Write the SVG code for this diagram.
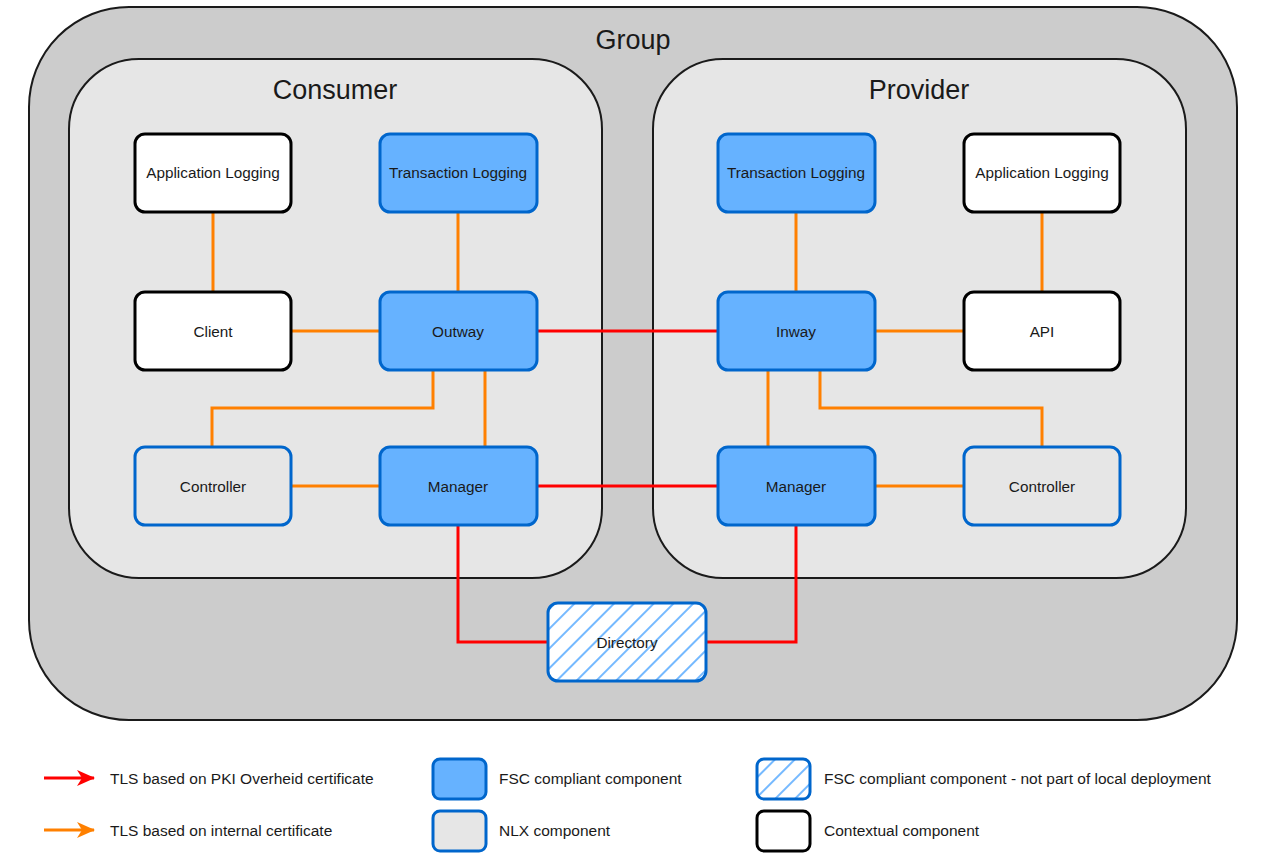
<svg xmlns="http://www.w3.org/2000/svg" width="1261" height="856" viewBox="0 0 1261 856">
<style>
text{font-family:"Liberation Sans",Arial,sans-serif;fill:#1a1a1a;text-anchor:middle;dominant-baseline:central}
.title{font-size:27px}
.lbl{font-size:15.3px}
.leg{font-size:15.5px;text-anchor:start}
.fsc{fill:#66b2ff;stroke:#0066cc;stroke-width:3}
.nlx{fill:#e6e6e6;stroke:#0066cc;stroke-width:3}
.ctx{fill:#ffffff;stroke:#000000;stroke-width:3}
.dir{fill:url(#hatch);stroke:#0066cc;stroke-width:3}
.o{fill:none;stroke:#ff8000;stroke-width:3}
.r{fill:none;stroke:#ff0000;stroke-width:3}
</style>
<defs>
<pattern id="hatch" patternUnits="userSpaceOnUse" width="14" height="14" patternTransform="rotate(45)">
<rect width="14" height="14" fill="#ffffff"/>
<line x1="7" y1="0" x2="7" y2="14" stroke="#66b2ff" stroke-width="1.8"/>
</pattern>
<marker id="ar" viewBox="0 0 18 16" refX="17" refY="8" markerWidth="18" markerHeight="16" markerUnits="userSpaceOnUse" orient="auto">
<path d="M0,0 L18,8 L0,16 L5,8 Z" fill="#ff0000"/>
</marker>
<marker id="ao" viewBox="0 0 18 16" refX="17" refY="8" markerWidth="18" markerHeight="16" markerUnits="userSpaceOnUse" orient="auto">
<path d="M0,0 L18,8 L0,16 L5,8 Z" fill="#ff8000"/>
</marker>
</defs>
<rect width="1261" height="856" fill="#ffffff"/>
<g id="group">
<rect x="29" y="7" width="1208" height="713" rx="100" ry="100" fill="#cccccc" stroke="#1a1a1a" stroke-width="2"/>
<text class="title" x="633" y="40">Group</text>
</g>
<g id="consumer">
<rect x="69" y="59" width="533" height="519" rx="70" ry="70" fill="#e6e6e6" stroke="#1a1a1a" stroke-width="2"/>
<text class="title" x="335" y="90">Consumer</text>
</g>
<g id="provider">
<rect x="653" y="59" width="533" height="519" rx="70" ry="70" fill="#e6e6e6" stroke="#1a1a1a" stroke-width="2"/>
<text class="title" x="919" y="90">Provider</text>
</g>
<g id="connectors">
<path class="o" d="M213,212 V292"/>
<path class="o" d="M458,212 V292"/>
<path class="o" d="M291,331 H380"/>
<path class="o" d="M433,370 V408 H212 V447"/>
<path class="o" d="M485,370 V447"/>
<path class="o" d="M291,486 H380"/>
<path class="r" d="M458,525 V642 H548"/>
<path class="r" d="M537,331 H718"/>
<path class="r" d="M537,486 H718"/>
<path class="o" d="M796,212 V292"/>
<path class="o" d="M1042,212 V292"/>
<path class="o" d="M875,331 H964"/>
<path class="o" d="M768,370 V447"/>
<path class="o" d="M820,370 V408 H1042 V447"/>
<path class="o" d="M875,486 H964"/>
<path class="r" d="M796,525 V642 H706"/>
</g>
<g id="c-applog">
<rect class="ctx" x="135" y="134" width="156" height="78" rx="10"/>
<text class="lbl" x="213" y="172">Application Logging</text>
</g>
<g id="c-txlog">
<rect class="fsc" x="380" y="134" width="157" height="78" rx="10"/>
<text class="lbl" x="458" y="172">Transaction Logging</text>
</g>
<g id="c-client">
<rect class="ctx" x="135" y="292" width="156" height="78" rx="10"/>
<text class="lbl" x="213" y="331">Client</text>
</g>
<g id="c-outway">
<rect class="fsc" x="380" y="292" width="157" height="78" rx="10"/>
<text class="lbl" x="458" y="331">Outway</text>
</g>
<g id="c-controller">
<rect class="nlx" x="135" y="447" width="156" height="78" rx="10"/>
<text class="lbl" x="213" y="486">Controller</text>
</g>
<g id="c-manager">
<rect class="fsc" x="380" y="447" width="157" height="78" rx="10"/>
<text class="lbl" x="458" y="486">Manager</text>
</g>
<g id="p-txlog">
<rect class="fsc" x="718" y="134" width="157" height="78" rx="10"/>
<text class="lbl" x="796" y="172">Transaction Logging</text>
</g>
<g id="p-applog">
<rect class="ctx" x="964" y="134" width="156" height="78" rx="10"/>
<text class="lbl" x="1042" y="172">Application Logging</text>
</g>
<g id="p-inway">
<rect class="fsc" x="718" y="292" width="157" height="78" rx="10"/>
<text class="lbl" x="796" y="331">Inway</text>
</g>
<g id="p-api">
<rect class="ctx" x="964" y="292" width="156" height="78" rx="10"/>
<text class="lbl" x="1042" y="331">API</text>
</g>
<g id="p-manager">
<rect class="fsc" x="718" y="447" width="157" height="78" rx="10"/>
<text class="lbl" x="796" y="486">Manager</text>
</g>
<g id="p-controller">
<rect class="nlx" x="964" y="447" width="156" height="78" rx="10"/>
<text class="lbl" x="1042" y="486">Controller</text>
</g>
<g id="directory">
<rect class="dir" x="548" y="603" width="158" height="78" rx="10"/>
<text class="lbl" x="627" y="642">Directory</text>
</g>
<g id="legend">
<path class="r" d="M44,778 H94" marker-end="url(#ar)"/>
<text class="leg" x="110" y="778">TLS based on PKI Overheid certificate</text>
<path class="o" d="M44,830 H94" marker-end="url(#ao)"/>
<text class="leg" x="110" y="830">TLS based on internal certificate</text>
<rect class="fsc" x="433" y="759" width="53" height="40" rx="7"/>
<text class="leg" x="499" y="778">FSC compliant component</text>
<rect class="nlx" x="433" y="811" width="53" height="40" rx="7"/>
<text class="leg" x="499" y="830">NLX component</text>
<rect class="dir" x="757" y="759" width="53" height="40" rx="7"/>
<text class="leg" x="824" y="778">FSC compliant component - not part of local deployment</text>
<rect class="ctx" x="757" y="811" width="53" height="40" rx="7"/>
<text class="leg" x="824" y="830">Contextual component</text>
</g>
</svg>
